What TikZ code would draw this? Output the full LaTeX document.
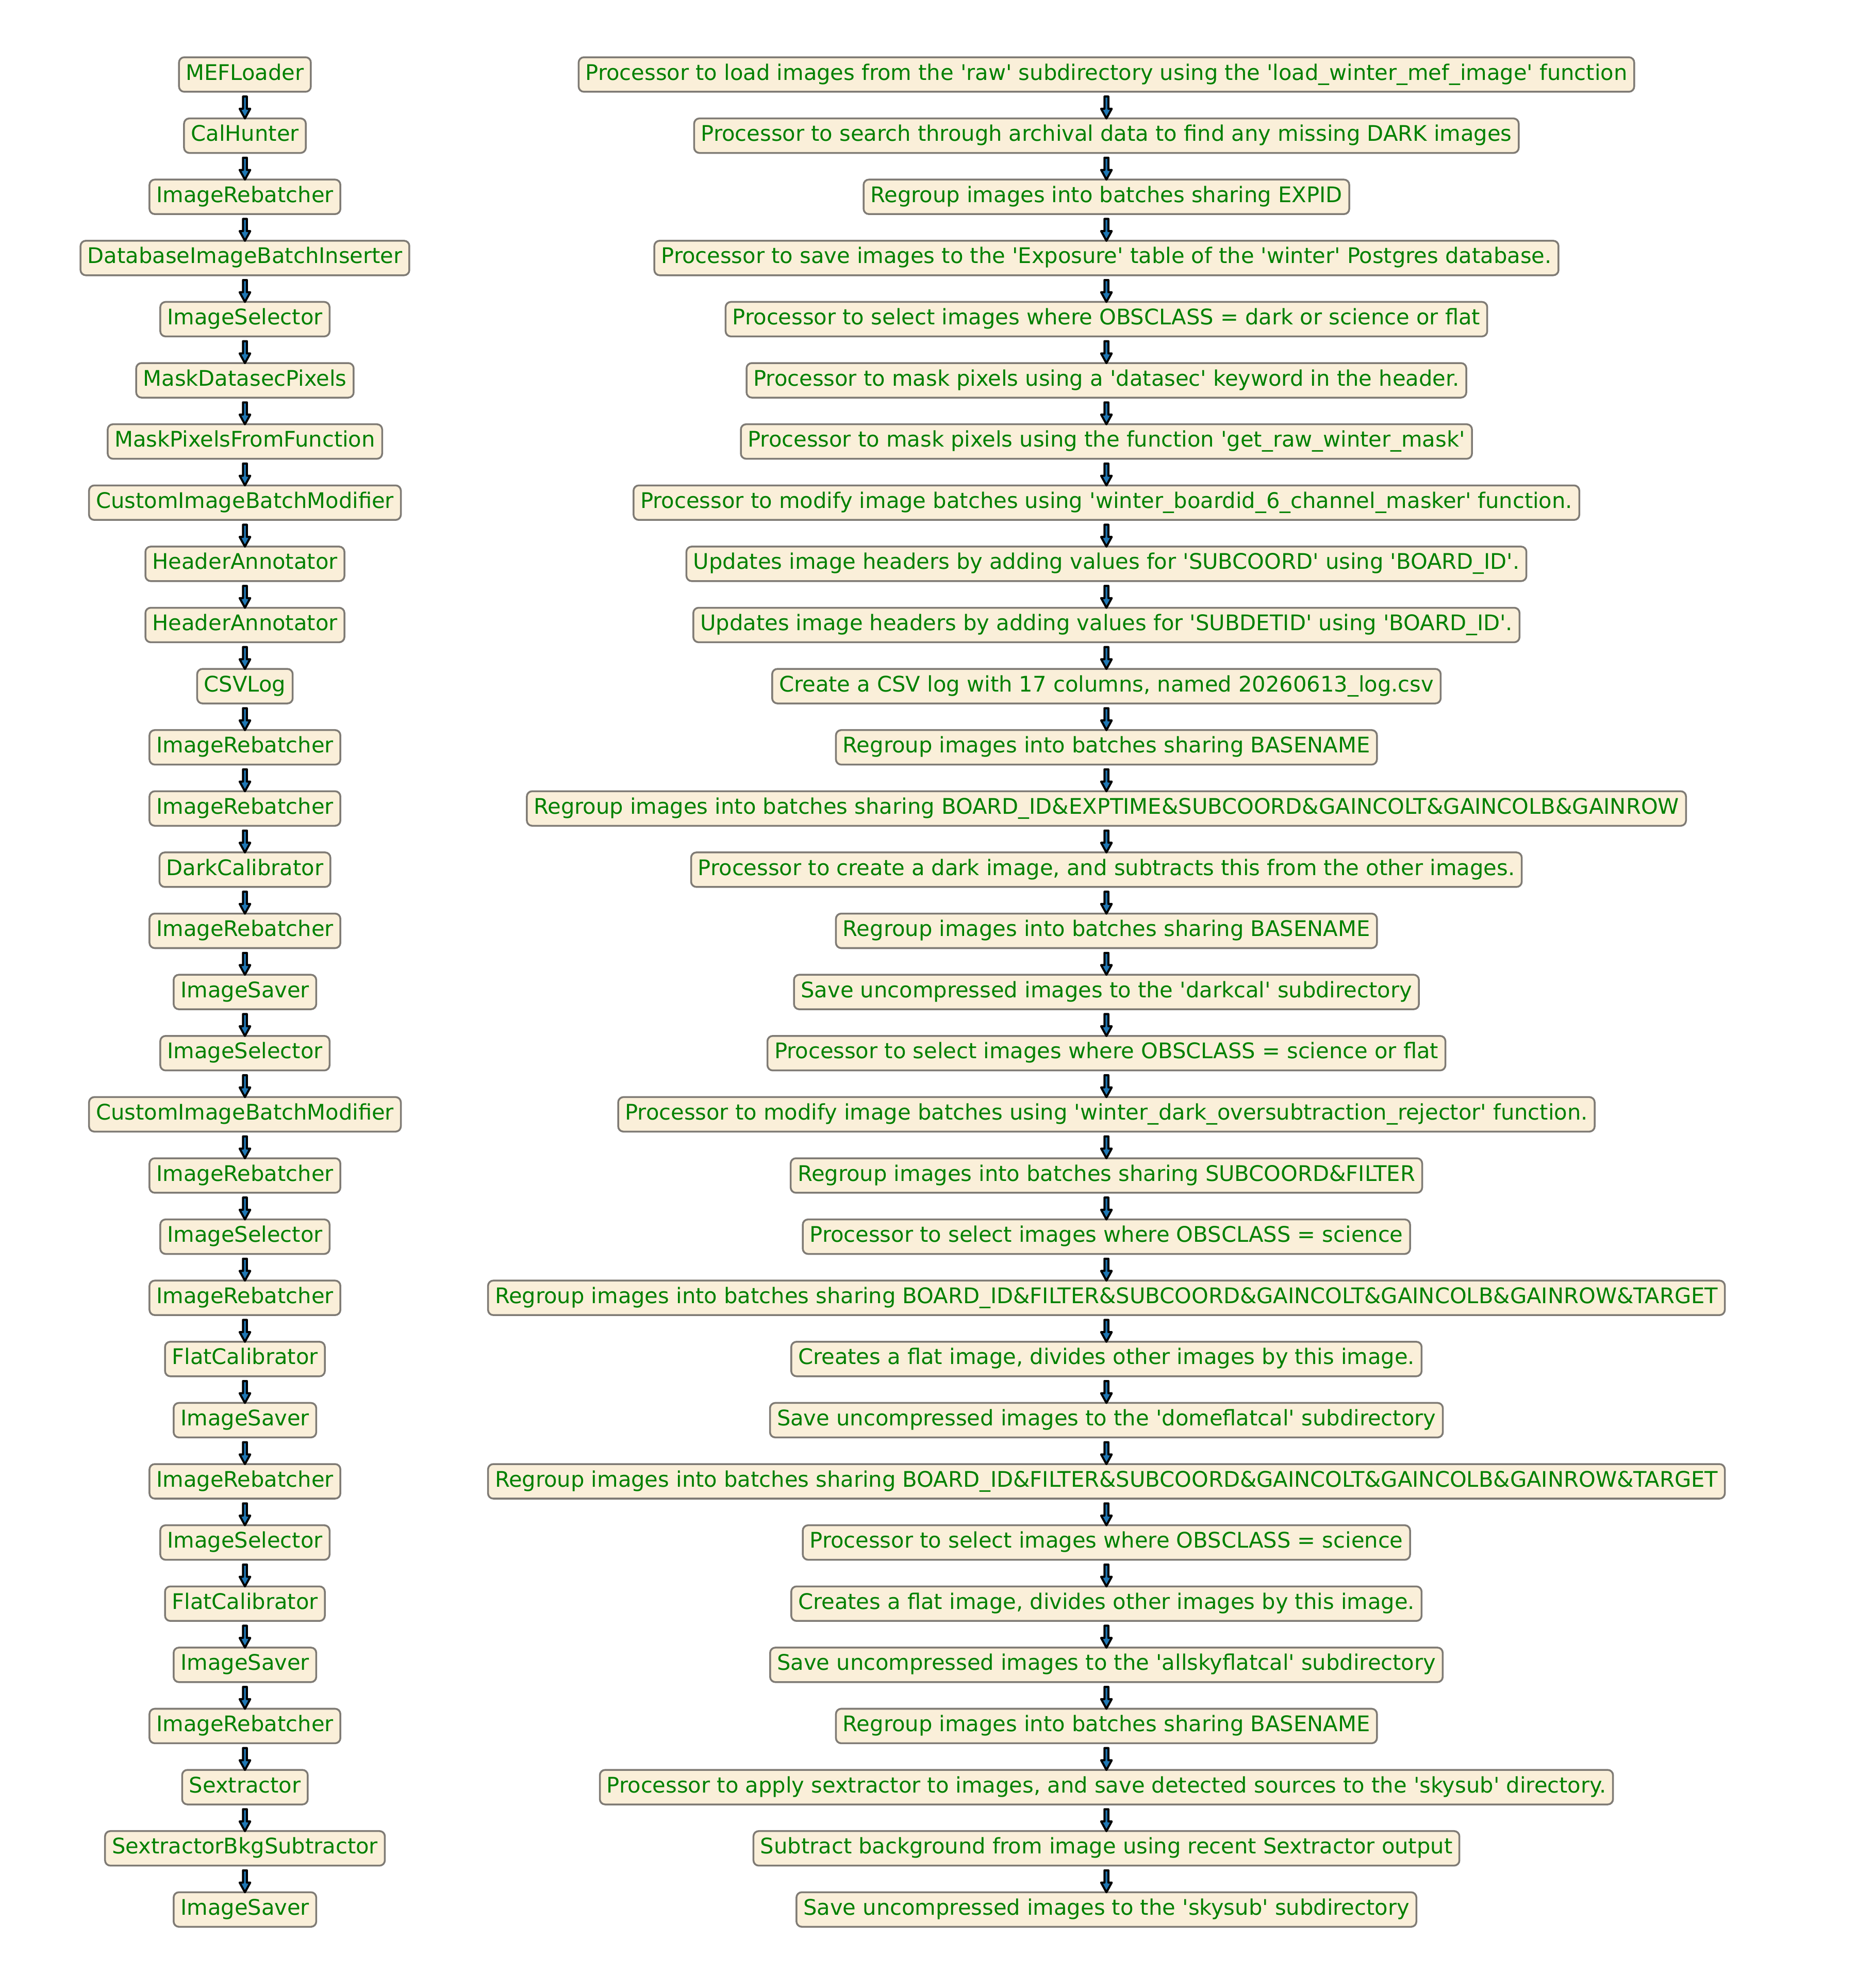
\documentclass[tikz,border=0pt]{standalone}
\usepackage{fontspec}
\setmainfont{DejaVu Sans}[Ligatures=TeXOff]
\usetikzlibrary{positioning}

\definecolor{boxfill}{RGB}{250,239,217}
\definecolor{boxedge}{RGB}{127,123,117}
\definecolor{procgreen}{RGB}{0,128,0}
\definecolor{arrowblue}{RGB}{31,119,180}

% block arrow from the bottom of one box to the top of the next
\newcommand{\flow}[2]{%
  \draw[flowarrow] ([xshift=-0.94pt,yshift=-1.84pt]#1.south) -- ([xshift=-0.94pt,yshift=4.16pt]#2.north)
    -- ([xshift=-2.52pt,yshift=4.16pt]#2.north) -- ([yshift=-0.44pt]#2.north)
    -- ([xshift=2.52pt,yshift=4.16pt]#2.north) -- ([xshift=0.94pt,yshift=4.16pt]#2.north)
    -- ([xshift=0.94pt,yshift=-1.84pt]#1.south) -- cycle;}

\begin{document}
\begin{tikzpicture}
  [node distance=11.8pt,
  procbox/.style={rectangle, rounded corners=2.5pt, draw=boxedge, fill=boxfill,
    line width=0.86pt, text=procgreen, font=\fontsize{10.2}{12}\selectfont,
    inner xsep=3.3pt, inner ysep=0pt,
    minimum height=16.4pt, text height=0.76em, text depth=0.24em},
  flowarrow/.style={draw=black, fill=arrowblue, line width=0.98pt, line join=round}]

  \useasboundingbox (0,0) rectangle (882pt,-944.5pt);

  \node[procbox] (loader) at (116.4pt,-35.4pt)      {MEFLoader};
  \node[procbox] (calhunter) [below=of loader]     {CalHunter};
  \node[procbox] (rebatch1) [below=of calhunter]   {ImageRebatcher};
  \node[procbox] (dbinsert) [below=of rebatch1]    {DatabaseImageBatchInserter};
  \node[procbox] (select1) [below=of dbinsert]     {ImageSelector};
  \node[procbox] (masksec) [below=of select1]      {MaskDatasecPixels};
  \node[procbox] (maskfunc) [below=of masksec]     {MaskPixelsFromFunction};
  \node[procbox] (modify1) [below=of maskfunc]     {CustomImageBatchModifier};
  \node[procbox] (annot1) [below=of modify1]       {HeaderAnnotator};
  \node[procbox] (annot2) [below=of annot1]        {HeaderAnnotator};
  \node[procbox] (csvlog) [below=of annot2]        {CSVLog};
  \node[procbox] (rebatch2) [below=of csvlog]      {ImageRebatcher};
  \node[procbox] (rebatch3) [below=of rebatch2]    {ImageRebatcher};
  \node[procbox] (darkcal) [below=of rebatch3]     {DarkCalibrator};
  \node[procbox] (rebatch4) [below=of darkcal]     {ImageRebatcher};
  \node[procbox] (save1) [below=of rebatch4]       {ImageSaver};
  \node[procbox] (select2) [below=of save1]        {ImageSelector};
  \node[procbox] (modify2) [below=of select2]      {CustomImageBatchModifier};
  \node[procbox] (rebatch5) [below=of modify2]     {ImageRebatcher};
  \node[procbox] (select3) [below=of rebatch5]     {ImageSelector};
  \node[procbox] (rebatch6) [below=of select3]     {ImageRebatcher};
  \node[procbox] (flatcal1) [below=of rebatch6]    {FlatCalibrator};
  \node[procbox] (save2) [below=of flatcal1]       {ImageSaver};
  \node[procbox] (rebatch7) [below=of save2]       {ImageRebatcher};
  \node[procbox] (select4) [below=of rebatch7]     {ImageSelector};
  \node[procbox] (flatcal2) [below=of select4]     {FlatCalibrator};
  \node[procbox] (save3) [below=of flatcal2]       {ImageSaver};
  \node[procbox] (rebatch8) [below=of save3]       {ImageRebatcher};
  \node[procbox] (sextractor) [below=of rebatch8]  {Sextractor};
  \node[procbox] (bkgsub) [below=of sextractor]    {SextractorBkgSubtractor};
  \node[procbox] (save4) [below=of bkgsub]         {ImageSaver};

  \node[procbox] (loader-info) at (525.8pt,-35.4pt) {Processor to load images from the 'raw' subdirectory using the 'load\_winter\_mef\_image' function};
  \node[procbox] (calhunter-info) [below=of loader-info]   {Processor to search through archival data to find any missing DARK images};
  \node[procbox] (rebatch1-info) [below=of calhunter-info] {Regroup images into batches sharing EXPID};
  \node[procbox] (dbinsert-info) [below=of rebatch1-info]  {Processor to save images to the 'Exposure' table of the 'winter' Postgres database.};
  \node[procbox] (select1-info) [below=of dbinsert-info]   {Processor to select images where OBSCLASS = dark or science or flat};
  \node[procbox] (masksec-info) [below=of select1-info]    {Processor to mask pixels using a 'datasec' keyword in the header.};
  \node[procbox] (maskfunc-info) [below=of masksec-info]   {Processor to mask pixels using the function 'get\_raw\_winter\_mask'};
  \node[procbox] (modify1-info) [below=of maskfunc-info]   {Processor to modify image batches using 'winter\_boardid\_6\_channel\_masker' function.};
  \node[procbox] (annot1-info) [below=of modify1-info]     {Updates image headers by adding values for 'SUBCOORD' using 'BOARD\_ID'.};
  \node[procbox] (annot2-info) [below=of annot1-info]      {Updates image headers by adding values for 'SUBDETID' using 'BOARD\_ID'.};
  \node[procbox] (csvlog-info) [below=of annot2-info]      {Create a CSV log with 17 columns, named 20260613\_log.csv};
  \node[procbox] (rebatch2-info) [below=of csvlog-info]    {Regroup images into batches sharing BASENAME};
  \node[procbox] (rebatch3-info) [below=of rebatch2-info]  {Regroup images into batches sharing BOARD\_ID\&EXPTIME\&SUBCOORD\&GAINCOLT\&GAINCOLB\&GAINROW};
  \node[procbox] (darkcal-info) [below=of rebatch3-info]   {Processor to create a dark image, and subtracts this from the other images.};
  \node[procbox] (rebatch4-info) [below=of darkcal-info]   {Regroup images into batches sharing BASENAME};
  \node[procbox] (save1-info) [below=of rebatch4-info]     {Save uncompressed images to the 'darkcal' subdirectory};
  \node[procbox] (select2-info) [below=of save1-info]      {Processor to select images where OBSCLASS = science or flat};
  \node[procbox] (modify2-info) [below=of select2-info]    {Processor to modify image batches using 'winter\_dark\_oversubtraction\_rejector' function.};
  \node[procbox] (rebatch5-info) [below=of modify2-info]   {Regroup images into batches sharing SUBCOORD\&FILTER};
  \node[procbox] (select3-info) [below=of rebatch5-info]   {Processor to select images where OBSCLASS = science};
  \node[procbox] (rebatch6-info) [below=of select3-info]   {Regroup images into batches sharing BOARD\_ID\&FILTER\&SUBCOORD\&GAINCOLT\&GAINCOLB\&GAINROW\&TARGET};
  \node[procbox] (flatcal1-info) [below=of rebatch6-info]  {Creates a flat image, divides other images by this image.};
  \node[procbox] (save2-info) [below=of flatcal1-info]     {Save uncompressed images to the 'domeflatcal' subdirectory};
  \node[procbox] (rebatch7-info) [below=of save2-info]     {Regroup images into batches sharing BOARD\_ID\&FILTER\&SUBCOORD\&GAINCOLT\&GAINCOLB\&GAINROW\&TARGET};
  \node[procbox] (select4-info) [below=of rebatch7-info]   {Processor to select images where OBSCLASS = science};
  \node[procbox] (flatcal2-info) [below=of select4-info]   {Creates a flat image, divides other images by this image.};
  \node[procbox] (save3-info) [below=of flatcal2-info]     {Save uncompressed images to the 'allskyflatcal' subdirectory};
  \node[procbox] (rebatch8-info) [below=of save3-info]     {Regroup images into batches sharing BASENAME};
  \node[procbox] (sextractor-info) [below=of rebatch8-info] {Processor to apply sextractor to images, and save detected sources to the 'skysub' directory.};
  \node[procbox] (bkgsub-info) [below=of sextractor-info]  {Subtract background from image using recent Sextractor output};
  \node[procbox] (save4-info) [below=of bkgsub-info]       {Save uncompressed images to the 'skysub' subdirectory};

  \flow{loader}{calhunter}       \flow{loader-info}{calhunter-info}
  \flow{calhunter}{rebatch1}     \flow{calhunter-info}{rebatch1-info}
  \flow{rebatch1}{dbinsert}      \flow{rebatch1-info}{dbinsert-info}
  \flow{dbinsert}{select1}       \flow{dbinsert-info}{select1-info}
  \flow{select1}{masksec}        \flow{select1-info}{masksec-info}
  \flow{masksec}{maskfunc}       \flow{masksec-info}{maskfunc-info}
  \flow{maskfunc}{modify1}       \flow{maskfunc-info}{modify1-info}
  \flow{modify1}{annot1}         \flow{modify1-info}{annot1-info}
  \flow{annot1}{annot2}          \flow{annot1-info}{annot2-info}
  \flow{annot2}{csvlog}          \flow{annot2-info}{csvlog-info}
  \flow{csvlog}{rebatch2}        \flow{csvlog-info}{rebatch2-info}
  \flow{rebatch2}{rebatch3}      \flow{rebatch2-info}{rebatch3-info}
  \flow{rebatch3}{darkcal}       \flow{rebatch3-info}{darkcal-info}
  \flow{darkcal}{rebatch4}       \flow{darkcal-info}{rebatch4-info}
  \flow{rebatch4}{save1}         \flow{rebatch4-info}{save1-info}
  \flow{save1}{select2}          \flow{save1-info}{select2-info}
  \flow{select2}{modify2}        \flow{select2-info}{modify2-info}
  \flow{modify2}{rebatch5}       \flow{modify2-info}{rebatch5-info}
  \flow{rebatch5}{select3}       \flow{rebatch5-info}{select3-info}
  \flow{select3}{rebatch6}       \flow{select3-info}{rebatch6-info}
  \flow{rebatch6}{flatcal1}      \flow{rebatch6-info}{flatcal1-info}
  \flow{flatcal1}{save2}         \flow{flatcal1-info}{save2-info}
  \flow{save2}{rebatch7}         \flow{save2-info}{rebatch7-info}
  \flow{rebatch7}{select4}       \flow{rebatch7-info}{select4-info}
  \flow{select4}{flatcal2}       \flow{select4-info}{flatcal2-info}
  \flow{flatcal2}{save3}         \flow{flatcal2-info}{save3-info}
  \flow{save3}{rebatch8}         \flow{save3-info}{rebatch8-info}
  \flow{rebatch8}{sextractor}    \flow{rebatch8-info}{sextractor-info}
  \flow{sextractor}{bkgsub}      \flow{sextractor-info}{bkgsub-info}
  \flow{bkgsub}{save4}           \flow{bkgsub-info}{save4-info}

\end{tikzpicture}
\end{document}
